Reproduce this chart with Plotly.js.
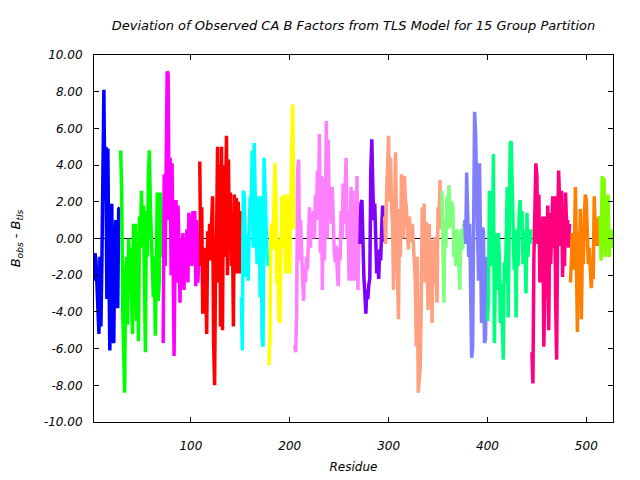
<!DOCTYPE html>
<html>
<head>
<meta charset="utf-8">
<script src="https://cdn.plot.ly/plotly-3.0.1.min.js"></script>
<style>html,body{margin:0;padding:0;background:#fff;}#chart{width:640px;height:480px;}</style>
</head>
<body>
<div id="chart"></div>
<script>
// First residue number of each TLS group
const groupStarts = [2, 29, 72, 109, 151, 179, 205, 271, 296, 354, 377, 400, 445, 484, 514];
const groupColors = ['#0000ff','#00ff00','#ff00ff','#ff0000','#00ffff','#ffff00','#ff80ff','#8000ff',
                     '#ffa080','#80ff80','#8080ff','#00ff80','#ff0080','#ff8000','#80ff00'];

// B_obs - B_tls per residue, one array per group
const g1 = [-2.3,-0.8,-1.2,-2.8,-4.5,-5.2,-1.0,-4.8,-1.2,5.0,8.1,2.0,5.0,-3.3,4.9,-1.0,-6.1,-2.5,1.9,-5.5,-5.7,-0.5,1.0,-2.5,-3.8,1.6,1.7];
const g2 = [4.8,2.6,-3.8,-6.8,-8.4,-2.0,-1.0,-4.7,0.0,-1.5,-0.5,-3.0,-5.2,0.8,-2.5,0.8,-4.5,-0.8,-5.6,1.2,-0.5,2.6,0.2,1.8,-3.8,-6.2,1.5,-1.0,3.3,4.8,1.8,-0.3,-1.5,-3.2,-1.0,-5.3,-2.0,2.5,-3.4,-2.3,2.5,1.4,-1.0];
const g3 = [-5.7,3.5,-1.5,5.4,9.1,9.0,1.0,4.4,-2.0,4.1,-5.2,-6.4,-1.0,2.1,-2.4,1.8,-0.5,-3.5,0.0,-1.0,0.3,-2.8,-0.5,-2.1,0.5,-2.4,1.4,-0.8,1.2,-1.5,1.5,0.0,1.5,-2.6,1.0,-2.4,-1.3];
const g4 = [4.2,-1.5,1.7,-4.1,-2.4,-0.5,-2.4,-5.2,0.4,-1.2,0.8,-1.2,0.9,2.3,-5.7,-8.0,-1.2,0.2,5.0,-2.4,4.0,-4.8,5.0,-5.0,4.0,-1.0,1.5,5.6,-2.0,4.3,-0.6,2.5,-1.5,1.0,-4.8,2.4,-1.8,2.2,-1.9,2.0,-1.9,1.5];
const g5 = [-3.2,-6.1,2.6,2.4,-0.3,-2.1,0.2,-2.3,0.5,2.3,1.5,4.8,-0.5,5.2,2.6,1.0,-1.4,0.8,2.3,-3.2,2.3,-5.3,-5.9,4.4,2.2,0.0,-0.8,-1.5];
const g6 = [-6.9,-5.3,0.6,0.8,-0.6,2.2,4.1,2.4,-2.5,0.0,-4.3,-4.6,1.5,2.3,-0.5,1.0,2.4,-1.9,1.5,0.5,2.4,-1.9,3.9,4.7,7.3,0.5];
const g7 = [-5.8,-6.2,-4.1,3.7,4.3,-1.2,1.0,-1.5,-2.2,-3.4,-1.5,-2.4,-1.0,-1.7,0.0,1.7,-0.5,1.2,0.5,1.5,0.0,2.4,1.0,3.7,1.5,5.7,-0.8,3.4,-2.8,3.3,-1.2,1.0,6.4,0.0,5.4,1.5,2.6,0.8,2.8,0.8,-0.6,-1.3,-0.4,-1.7,-2.6,-0.6,-1.2,1.5,0.0,3.0,0.8,2.6,4.4,0.0,1.5,-2.3,1.5,2.8,-2.3,2.6,-2.3,1.5,-2.3,3.4,-2.8,1.2];
const g8 = [-0.3,1.9,2.1,-1.2,-2.1,-3.0,-4.1,-2.8,-3.3,-2.5,-2.2,3.7,5.4,2.9,1.0,1.9,-0.5,-1.9,-1.0,-2.2,-0.6,-1.2,0.5,1.8,-0.2];
const g9 = [1.2,-0.3,2.5,4.0,5.6,2.0,4.4,1.5,0.9,-2.8,1.0,4.7,0.5,-3.7,-4.4,1.6,-1.0,3.5,2.6,0.0,3.4,2.1,1.7,0.5,-0.6,1.2,0.6,-0.2,0.8,-0.5,-1.5,-2.3,-5.9,-1.0,-8.4,-7.9,-7.0,-3.7,1.7,-1.0,1.9,-2.4,0.9,-1.5,-3.9,0.8,-2.0,-0.5,-4.6,-0.1,-2.5,0.1,-1.0,-3.5,1.7,0.5,3.2,0.5];
const g10 = [2.6,-0.3,-3.5,1.0,-0.5,2.3,0.5,2.9,1.2,0.6,2.0,1.8,-1.0,-0.5,-1.5,0.5,0.3,-1.0,-2.8,0.2,0.5,-0.6,0.8];
const g11 = [1.0,-0.3,3.6,0.5,-1.0,0.8,-4.6,-6.5,-6.0,5.0,6.9,5.8,3.0,1.7,-2.3,4.1,0.5,-4.6,0.6,0.4,-5.7,-5.5,-1.0];
const g12 = [-4.5,-3.4,2.6,-1.5,2.5,-0.8,4.6,-5.7,-2.0,0.3,-2.8,0.3,-1.0,-4.6,-2.5,-4.6,-6.6,-1.3,-2.4,0.0,2.8,-4.3,3.0,5.2,5.3,2.6,1.6,-1.7,0.5,-4.3,0.3,-1.5,1.2,2.1,0.6,1.5,-1.4,0.4,-0.5,-3.0,1.4,-1.0,0.5,-0.3,0.5];
const g13 = [-6.2,-7.9,-1.0,0.8,4.1,3.4,-0.3,2.4,-2.4,-1.3,-1.0,1.2,-5.9,-3.2,1.2,-3.2,1.8,-5.0,1.4,-1.4,1.2,2.3,-0.5,2.3,-3.6,-6.6,0.5,3.7,2.0,-0.4,2.6,-2.1,0.5,-1.5,2.5,0.8,1.0,-0.5,0.8];
const g14 = [-2.4,-1.2,0.3,-1.7,-0.3,2.8,-3.4,-5.1,0.4,-1.0,1.6,-4.4,-0.6,-1.4,1.2,2.4,2.1,0.1,-1.4,-0.5,-2.4,-2.7,-1.9,-2.2,2.3,0.4,1.1,-0.4,0.5,1.2];
const g15 = [1.2,-1.2,3.4,-0.5,3.3,-1.0,0.8,0.2,2.4,-1.0,0.0,-0.3,0.5,-0.5];

const groupValues = [g1,g2,g3,g4,g5,g6,g7,g8,g9,g10,g11,g12,g13,g14,g15];

const xTickVals = [100, 200, 300, 400, 500];
const yTickVals = [-10, -8, -6, -4, -2, 0, 2, 4, 6, 8, 10];
const yTickText = ['-10.00','-8.00','-6.00','-4.00','-2.00','0.00','2.00','4.00','6.00','8.00','10.00'];

const traces = groupValues.map((vals, gi) => ({
  type: 'scatter',
  mode: 'lines',
  x: vals.map((v, i) => groupStarts[gi] + i),
  y: vals,
  line: {color: groupColors[gi], width: 3.5},
  hoverinfo: 'skip',
  showlegend: false
}));

const fnt = {family: 'DejaVu Sans', size: 12, color: '#000', style: 'italic'};
const fntTitle = {family: 'DejaVu Sans', size: 13, color: '#000', style: 'italic'};

const layout = {
  width: 640, height: 480,
  margin: {l: 94, r: 27, t: 55, b: 58},
  paper_bgcolor: '#fff', plot_bgcolor: '#fff',
  showlegend: false,
  title: {
    text: 'Deviation of Observed CA B Factors from TLS Model for 15 Group Partition',
    font: fntTitle, x: 0.5, xref: 'paper', y: 0.946, yref: 'container', yanchor: 'middle'
  },
  xaxis: {
    range: [2, 527], tickvals: xTickVals, ticks: 'inside', ticklen: 5, tickcolor: '#000',
    showline: true, linecolor: '#000', linewidth: 1, mirror: 'ticks',
    showgrid: false, zeroline: false, tickfont: fnt, ticklabelstandoff: 13,
    title: {text: 'Residue', font: fnt, standoff: 10}
  },
  yaxis: {
    range: [-10, 10], tickvals: yTickVals, ticktext: yTickText, ticks: 'inside', ticklen: 5, tickcolor: '#000',
    showline: true, linecolor: '#000', linewidth: 1, mirror: 'ticks',
    showgrid: false, zeroline: true, zerolinecolor: '#000', zerolinewidth: 1,
    tickfont: fnt, ticklabelstandoff: 8,
    title: {text: 'B<sub>obs</sub> - B<sub>tls</sub>', font: fntTitle, standoff: 20}
  }
};

Plotly.newPlot('chart', traces, layout, {staticPlot: true, displayModeBar: false});
</script>
</body>
</html>
